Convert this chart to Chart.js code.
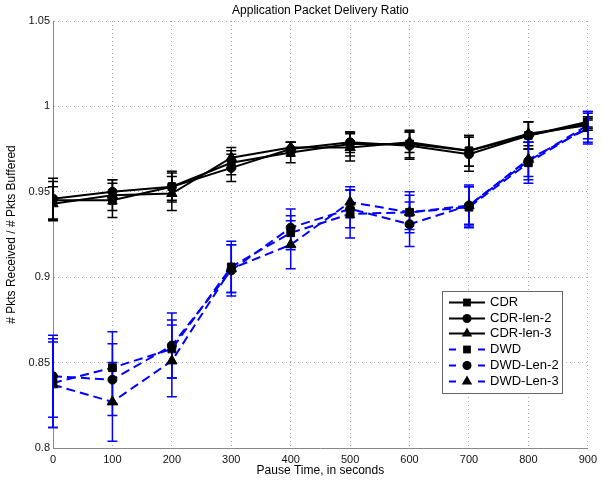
<!DOCTYPE html>
<html><head><meta charset="utf-8">
<script src="https://cdn.jsdelivr.net/npm/chart.js@4.4.1/dist/chart.umd.min.js"></script>
<style>html,body{margin:0;padding:0;background:#fff;overflow:hidden;}</style>
</head><body>
<canvas id="c" width="602" height="483"></canvas>
<script>
// ---- data ----
const pauseTimes = [0, 100, 200, 300, 400, 500, 600, 700, 800, 900];

const cdr        = [0.945, 0.945, 0.953, 0.967, 0.973, 0.978, 0.978, 0.974, 0.983, 0.990];
const cdrErr     = [0.011, 0.010, 0.008, 0.007, 0.006, 0.007, 0.008, 0.009, 0.008, 0.003];
const cdrLen2    = [0.946, 0.950, 0.953, 0.964, 0.975, 0.979, 0.977, 0.972, 0.983, 0.991];
const cdrLen2Err = [0.012, 0.007, 0.009, 0.008, 0.004, 0.006, 0.008, 0.010, 0.008, 0.003];
const cdrLen3    = [0.943, 0.948, 0.949, 0.970, 0.976, 0.976, 0.979, 0.974, 0.984, 0.989];
const cdrLen3Err = [0.010, 0.009, 0.010, 0.006, 0.003, 0.008, 0.006, 0.009, 0.007, 0.003];

const dwd        = [0.838, 0.847, 0.858, 0.906, 0.926, 0.937, 0.938, 0.941, 0.967, 0.988];
const dwdErr     = [0.026, 0.021, 0.017, 0.015, 0.010, 0.014, 0.012, 0.012, 0.012, 0.009];
const dwdLen2    = [0.842, 0.840, 0.860, 0.904, 0.929, 0.940, 0.931, 0.942, 0.968, 0.989];
const dwdLen2Err = [0.024, 0.021, 0.019, 0.015, 0.011, 0.011, 0.013, 0.011, 0.011, 0.008];
const dwdLen3    = [0.837, 0.827, 0.851, 0.905, 0.919, 0.944, 0.938, 0.942, 0.969, 0.987];
const dwdLen3Err = [0.025, 0.023, 0.021, 0.014, 0.014, 0.009, 0.010, 0.012, 0.010, 0.009];

const seriesNames = ['CDR', 'CDR-len-2', 'CDR-len-3', 'DWD', 'DWD-Len-2', 'DWD-Len-3'];

const xTickValues = [0, 100, 200, 300, 400, 500, 600, 700, 800, 900];
const xTickLabels = ['0', '100', '200', '300', '400', '500', '600', '700', '800', '900'];
const yTickValues = [0.8, 0.85, 0.9, 0.95, 1, 1.05];
const yTickLabels = ['0.8', '0.85', '0.9', '0.95', '1', '1.05'];

const titleText = 'Application Packet Delivery Ratio';
const xTitle = 'Pause Time, in seconds';
const yTitle = '# Pkts Received / # Pkts Buffered';

// ---- build ----
const FONT = '"Liberation Sans", Arial, sans-serif';
const BLUE = '#0000ff';
const pts = arr => arr.map((v, i) => ({x: pauseTimes[i], y: v}));

function makeSet(label, vals, errs, color, dash, style, r) {
  return {
    label, data: pts(vals), errors: errs,
    borderColor: color, borderWidth: 2, borderDash: dash,
    backgroundColor: '#000',
    pointStyle: style, pointRadius: r, pointHoverRadius: r,
    pointBackgroundColor: '#000', pointBorderColor: '#000', pointBorderWidth: 1,
    tension: 0, fill: false
  };
}

const datasets = [
  makeSet(seriesNames[0], cdr, cdrErr, '#000', [], 'rect', 5.5),
  makeSet(seriesNames[1], cdrLen2, cdrLen2Err, '#000', [], 'circle', 4.5),
  makeSet(seriesNames[2], cdrLen3, cdrLen3Err, '#000', [], 'triangle', 6),
  makeSet(seriesNames[3], dwd, dwdErr, BLUE, [9, 5], 'rect', 5.5),
  makeSet(seriesNames[4], dwdLen2, dwdLen2Err, BLUE, [9, 5], 'circle', 4.5),
  makeSet(seriesNames[5], dwdLen3, dwdLen3Err, BLUE, [9, 5], 'triangle', 6)
];

function drawMarker(ctx, style, x, y, r) {
  ctx.beginPath();
  if (style === 'circle') {
    ctx.arc(x, y, r, 0, Math.PI * 2);
  } else if (style === 'rect') {
    const s = r * Math.SQRT1_2;
    ctx.rect(x - s, y - s, 2 * s, 2 * s);
  } else if (style === 'triangle') {
    let a = 0;
    ctx.moveTo(x + Math.sin(a) * r, y - Math.cos(a) * r);
    a += 2 * Math.PI / 3;
    ctx.lineTo(x + Math.sin(a) * r, y - Math.cos(a) * r);
    a += 2 * Math.PI / 3;
    ctx.lineTo(x + Math.sin(a) * r, y - Math.cos(a) * r);
    ctx.closePath();
  }
  ctx.fillStyle = '#000';
  ctx.fill();
}

const errorBars = {
  id: 'errorBars',
  beforeDatasetsDraw(chart) {
    const ctx = chart.ctx, xs = chart.scales.x, ys = chart.scales.y;
    ctx.save();
    chart.data.datasets.forEach(ds => {
      ctx.strokeStyle = ds.borderColor;
      ctx.lineWidth = 1.5;
      ctx.setLineDash([]);
      ds.data.forEach((p, i) => {
        const e = ds.errors[i];
        const px = xs.getPixelForValue(p.x);
        const yt = ys.getPixelForValue(p.y + e);
        const yb = ys.getPixelForValue(p.y - e);
        ctx.beginPath();
        ctx.moveTo(px, yt); ctx.lineTo(px, yb);
        ctx.moveTo(px - 5, yt); ctx.lineTo(px + 5, yt);
        ctx.moveTo(px - 5, yb); ctx.lineTo(px + 5, yb);
        ctx.stroke();
      });
    });
    ctx.restore();
  }
};

const boxLegend = {
  id: 'boxLegend',
  afterDraw(chart) {
    const ctx = chart.ctx;
    const bx = 442, by = 291, bw = 120, bh = 102;
    ctx.save();
    ctx.fillStyle = '#fff';
    ctx.fillRect(bx, by, bw, bh);
    ctx.strokeStyle = '#666';
    ctx.lineWidth = 1;
    ctx.setLineDash([]);
    ctx.strokeRect(bx + 0.5, by + 0.5, bw, bh);
    ctx.font = '13px ' + FONT;
    ctx.textBaseline = 'middle';
    ctx.textAlign = 'left';
    chart.data.datasets.forEach((ds, i) => {
      const y = Math.round(302 + i * 15.7) + 0.5;
      ctx.strokeStyle = ds.borderColor;
      ctx.lineWidth = 2;
      ctx.beginPath();
      if (ds.borderDash.length) {
        ctx.moveTo(449, y); ctx.lineTo(456, y);
        ctx.moveTo(478, y); ctx.lineTo(485, y);
      } else {
        ctx.moveTo(449, y); ctx.lineTo(485, y);
      }
      ctx.stroke();
      drawMarker(ctx, ds.pointStyle, 467, y, ds.pointRadius);
      ctx.fillStyle = '#000';
      ctx.fillText(ds.label, 490, y);
    });
    ctx.restore();
  }
};

const gridCol = '#aaaaaa';
new Chart(document.getElementById('c'), {
  type: 'line',
  data: { datasets },
  plugins: [errorBars, boxLegend],
  options: {
    responsive: false,
    animation: false,
    devicePixelRatio: 1,
    layout: { padding: { left: 0, right: 12, top: 0, bottom: 0 } },
    plugins: {
      legend: { display: false },
      tooltip: { enabled: false },
      title: {
        display: true, text: titleText, fullSize: false,
        color: '#000', font: { family: FONT, size: 12, weight: 'normal' },
        padding: { top: 3, bottom: 3.6 }
      }
    },
    scales: {
      x: {
        type: 'linear', min: 0, max: 900,
        afterFit(s) { s.height = 35; },
        afterBuildTicks(s) { s.ticks = xTickValues.map(v => ({ value: v })); },
        ticks: {
          color: '#111', font: { family: FONT, size: 11 }, padding: 5,
          maxRotation: 0, autoSkip: false,
          callback: (v) => xTickLabels[xTickValues.indexOf(v)]
        },
        grid: { color: gridCol, drawTicks: false, lineWidth: 1 },
        border: { display: true, color: '#888', width: 1, dash: [1, 3] },
        title: {
          display: true, text: xTitle, color: '#000',
          font: { family: FONT, size: 12 }, padding: { top: 0, bottom: 4.8 }
        }
      },
      y: {
        type: 'linear', min: 0.8, max: 1.05,
        afterFit(s) { s.width = 53; },
        afterBuildTicks(s) { s.ticks = yTickValues.map(v => ({ value: v })); },
        ticks: {
          color: '#111', font: { family: FONT, size: 11 }, padding: 3,
          autoSkip: false,
          callback: (v) => yTickLabels[yTickValues.findIndex(t => Math.abs(t - v) < 1e-9)]
        },
        grid: { color: gridCol, drawTicks: false, lineWidth: 1 },
        border: { display: true, color: '#888', width: 1, dash: [1, 3] },
        title: {
          display: true, text: yTitle, color: '#000',
          font: { family: FONT, size: 12 }, padding: { top: 4.8, bottom: 0 }
        }
      }
    }
  }
});
</script>
</body></html>
